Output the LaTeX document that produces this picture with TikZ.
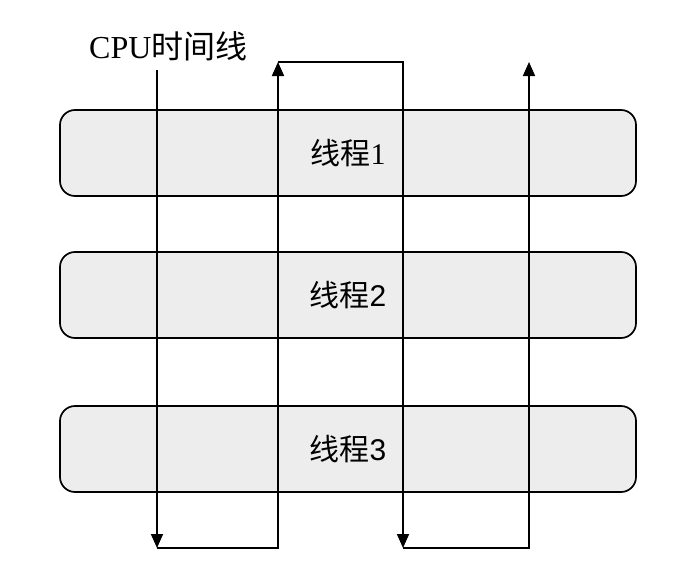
\documentclass[tikz,border=0pt]{standalone}
\usepackage{fontspec}
\setmainfont{Liberation Serif}
\newfontfamily\cjk{Noto Sans CJK SC}
\newfontfamily\hei{Liberation Sans}
\usetikzlibrary{arrows.meta}

\tikzset{
  thread/.style={draw, line width=1.7pt, rounded corners=15pt, fill=black!7,
    minimum width=576pt, minimum height=86pt, inner sep=0pt,
    font=\fontsize{30}{30}\selectfont},
  timeline/.style={line width=1.7pt, -{Triangle[width=12pt,length=14pt]}}
}

\begin{document}
\begin{tikzpicture}[x=1pt, y=-1pt]
  \useasboundingbox (0,0) rectangle (678,573);

  % threads
  \node[thread] (t1) at (348, 153) {{\cjk 线程}1};
  \node[thread] (t2) at (348, 295) {{\cjk 线程}{\hei 2}};
  \node[thread] (t3) at (348, 449) {{\cjk 线程}{\hei 3}};

  % CPU time line
  \node[anchor=west, inner sep=0pt, font=\fontsize{32}{32}\selectfont] (cpu) at (89, 46) {CPU{\cjk 时间线}};
  \coordinate (a0) at (157, 70);
  \coordinate (a1) at (157, 548); \coordinate (b1) at (278, 548);
  \coordinate (b0) at (278, 62);  \coordinate (c0) at (403, 62);
  \coordinate (c1) at (403, 548); \coordinate (d1) at (529, 548);
  \coordinate (d0) at (529, 62);

  \draw[timeline] (a0) -- (a1);
  \draw[timeline] (a1) -- (b1) -- (b0);
  \draw[timeline] (b0) -- (c0) -- (c1);
  \draw[timeline] (c1) -- (d1) -- (d0);

\end{tikzpicture}
\end{document}
